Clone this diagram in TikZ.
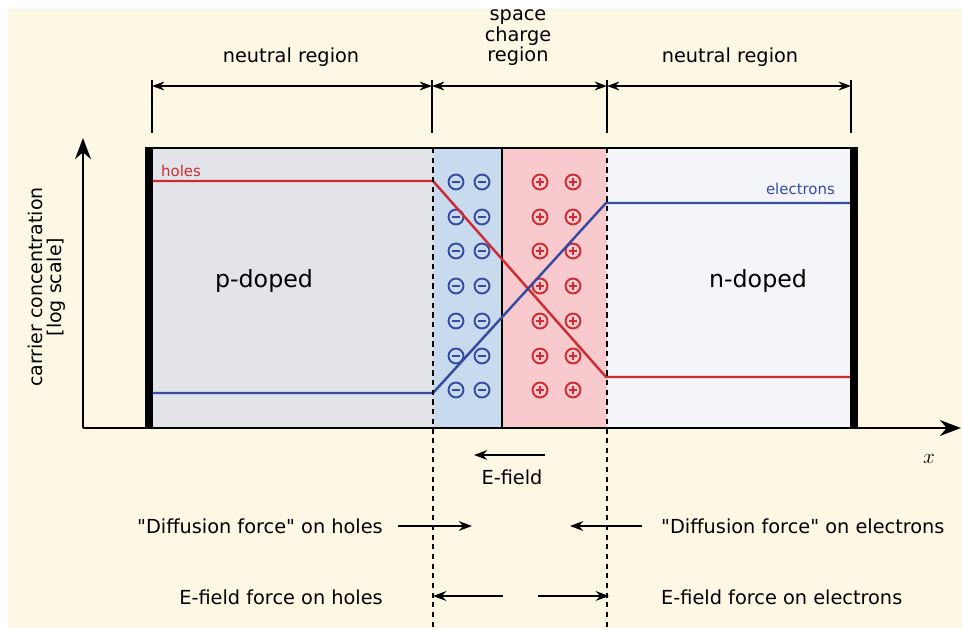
\documentclass[tikz,border=0pt]{standalone}
\usepackage{fontspec}
\setmainfont{DejaVu Sans}[Ligatures=TeXOff]
\usetikzlibrary{arrows.meta,positioning}
\definecolor{bgcol}{RGB}{253,248,228}
\definecolor{pcol}{RGB}{226,228,234}
\definecolor{ncol}{RGB}{243,245,250}
\definecolor{minuscol}{RGB}{200,218,238}
\definecolor{pluscol}{RGB}{248,202,206}
\definecolor{holecol}{RGB}{205,45,50}
\definecolor{eleccol}{RGB}{55,75,160}

\begin{document}
\begin{tikzpicture}[x=0.02cm,y=-0.02cm,
  ion/.style={circle,line width=1.1pt,minimum size=8.5pt,inner sep=0pt},
  minus/.style={ion,draw=eleccol,path picture={\draw[eleccol,line width=1.1pt] ([xshift=-2.5pt]path picture bounding box.center) -- ([xshift=2.5pt]path picture bounding box.center);}},
  plus/.style={ion,draw=holecol,path picture={\draw[holecol,line width=1.1pt] ([xshift=-2.5pt]path picture bounding box.center) -- ([xshift=2.5pt]path picture bounding box.center) ([yshift=-2.5pt]path picture bounding box.center) -- ([yshift=2.5pt]path picture bounding box.center);}},
  dimarr/.style={{Stealth[length=7pt,width=5pt]}-{Stealth[length=7pt,width=5pt]},line width=1pt},
  force/.style={-{Stealth[length=7.5pt,width=5.5pt]},line width=1.3pt},
  sep/.style={dash pattern=on 3pt off 2.5pt,line width=0.8pt},
  txt/.style={font=\fontsize{11}{13}\selectfont},
  toplbl/.style={font=\fontsize{11}{10}\selectfont}]
\useasboundingbox (0,0) rectangle (962,628);
\fill[white] (0,0) rectangle (962,628);
\fill[bgcol] (8,9) rectangle (962,628);
% regions: p | space charge (-) | space charge (+) | n
\fill[pcol] (153,148) rectangle (433,428);
\fill[minuscol] (433,148) rectangle (502,428);
\fill[pluscol] (502,148) rectangle (607,428);
\fill[ncol] (607,148) rectangle (850,428);
\draw[line width=1pt] (502,148) -- (502,428);
% fixed ions
\foreach \y [count=\r] in {182,217,251,286,321,356,390}{
  \node[minus] (m\r-a) at (456,\y) {};
  \node[minus] (m\r-b) at (482,\y) {};
  \node[plus] (p\r-a) at (540,\y) {};
  \node[plus] (p\r-b) at (573,\y) {};
}
% carrier profiles
\draw[holecol,line width=1.4pt] (153,181) -- (433,181) -- (606,377) -- (850,377);
\draw[eleccol,line width=1.4pt] (153,393) -- (433,393) -- (606,203) -- (850,203);
\node[holecol,font=\fontsize{8.5}{10}\selectfont,anchor=west] (holes) at (155,171) {holes};
\node[eleccol,font=\fontsize{8.5}{10}\selectfont,anchor=east] (elec) at (841,189) {electrons};
\node[font=\fontsize{13.5}{16}\selectfont] (pdop) at (264,281) {p-doped};
\node[font=\fontsize{13.5}{16}\selectfont] (ndop) at (758,281) {n-doped};
% device frame
\draw[line width=1.7pt] (149,148) -- (854,148);
\fill (145,147) rectangle (153,429);
\fill (850,147) rectangle (858,429);
% axes
\coordinate (o) at (83,428);
\coordinate (ytip) at (83,138);
\coordinate (xtip) at (961,428);
\draw[line width=1.6pt,-{Stealth[length=12pt,width=9pt]}] (o) -- (ytip);
\draw[line width=1.6pt,-{Stealth[length=12pt,width=9pt]}] (o) -- (xtip);
\node[rotate=90,align=center,font=\fontsize{10.8}{11}\selectfont] (ylab) at (47,287) {carrier concentration\\{[log scale]}};
\node[font=\fontsize{12}{14}\selectfont] (xlab) at (929,459) {$x$};
% junction edges
\draw[sep] (433,148) -- (433,628);
\draw[sep] (607,148) -- (607,628);
% region widths
\foreach \x [count=\i] in {152,432,607,851}{
  \coordinate (t\i) at (\x,86);
  \draw[line width=0.9pt] (\x,80) -- (\x,133);
}
\draw[dimarr] (t1) -- (t2);
\draw[dimarr] (t2) -- (t3);
\draw[dimarr] (t3) -- (t4);
\node[toplbl] (nl) at (291,57) {neutral region};
\node[toplbl,align=center] (scr) at (518,38) {space\\charge\\region};
\node[toplbl] (nr) at (730,57) {neutral region};
% field and forces
\coordinate (ef1) at (545,455);
\coordinate (ef2) at (474,455);
\draw[force] (ef1) -- (ef2);
\node[txt] (eflab) at (512,477) {E-field};
\node[txt,anchor=east] (dh) at (389,526) {"Diffusion force" on holes};
\node[txt,anchor=west] (de) at (655,526) {"Diffusion force" on electrons};
\node[txt,anchor=east] (fh) at (389,597) {E-field force on holes};
\node[txt,anchor=west] (fe) at (655,597) {E-field force on electrons};
\coordinate (dhs) at (398,526);
\coordinate (dht) at (472,526);
\coordinate (des) at (642,526);
\coordinate (det) at (570,526);
\coordinate (fhs) at (503,596);
\coordinate (fht) at (433,596);
\coordinate (fes) at (538,596);
\coordinate (fet) at (609,596);
\draw[force] (dhs) -- (dht);
\draw[force] (des) -- (det);
\draw[force] (fhs) -- (fht);
\draw[force] (fes) -- (fet);
\end{tikzpicture}
\end{document}
